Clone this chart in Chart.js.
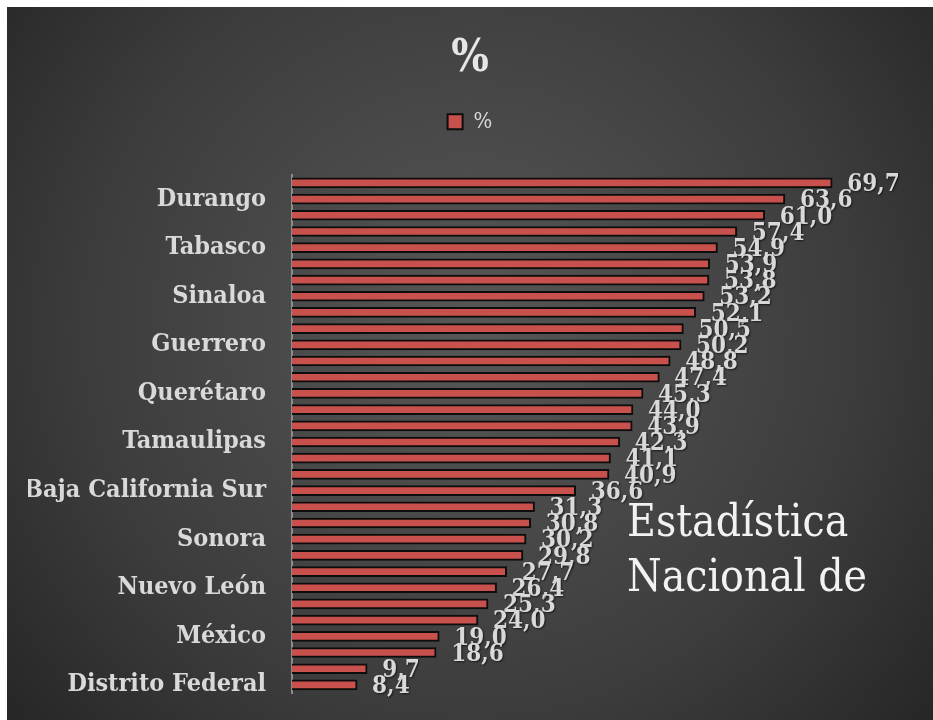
<!DOCTYPE html>
<html>
<head>
<meta charset="utf-8">
<script src="https://cdn.jsdelivr.net/npm/chart.js@4/dist/chart.umd.min.js"></script>
<style>
  html, body { margin: 0; padding: 0; background: #ffffff; }
  #wrap { position: absolute; left: 7px; top: 7px; width: 926px; height: 713px; }
</style>
</head>
<body>
<div id="wrap"><canvas id="chart"></canvas></div>
<script>
// data, top bar first; only every third state name is shown on the picture
const states = [
  '', 'Durango', '', '', 'Tabasco', '', '', 'Sinaloa', '', '', 'Guerrero', '',
  '', 'Querétaro', '', '', 'Tamaulipas', '', '', 'Baja California Sur', '', '',
  'Sonora', '', '', 'Nuevo León', '', '', 'México', '', '', 'Distrito Federal'
];
const percent = [
  69.7, 63.6, 61.0, 57.4, 54.9, 53.9, 53.8, 53.2, 52.1, 50.5, 50.2, 48.8,
  47.4, 45.3, 44.0, 43.9, 42.3, 41.1, 40.9, 36.6, 31.3, 30.8, 30.2, 29.8,
  27.7, 26.4, 25.3, 24.0, 19.0, 18.6, 9.7, 8.4
];
const seriesName = '%';
const watermark = ['Estadística', 'Nacional de'];

const serif = "'DejaVu Serif Condensed', 'DejaVu Serif', serif";
const textGray = '#d9d9d9';

// dark radial background
const background = {
  id: 'background',
  beforeDraw(chart) {
    const { ctx, width, height } = chart;
    const g = ctx.createRadialGradient(width * 0.5, height * 0.45, 0, width * 0.5, height * 0.45, width * 0.7);
    g.addColorStop(0, '#575757');
    g.addColorStop(0.6, '#3c3c3c');
    g.addColorStop(1, '#222222');
    ctx.save();
    ctx.fillStyle = g;
    ctx.fillRect(0, 0, width, height);
    ctx.restore();
  }
};

// extra room under the legend
const legendGap = {
  id: 'legendGap',
  beforeInit(chart) {
    const fit = chart.legend.fit;
    chart.legend.fit = function () {
      fit.call(this);
      this.height += 32;
    };
  }
};

// value labels at the end of each bar
const valueLabels = {
  id: 'valueLabels',
  afterDatasetsDraw(chart) {
    const { ctx } = chart;
    const meta = chart.getDatasetMeta(0);
    ctx.save();
    ctx.font = 'bold 24px ' + serif;
    ctx.fillStyle = textGray;
    ctx.textAlign = 'left';
    ctx.textBaseline = 'middle';
    ctx.shadowColor = 'rgba(0,0,0,0.6)';
    ctx.shadowOffsetX = 1;
    ctx.shadowOffsetY = 1;
    ctx.shadowBlur = 2;
    meta.data.forEach((bar, i) => {
      const txt = percent[i].toFixed(1).replace('.', ',');
      ctx.fillText(txt, bar.x + 15, bar.y + 2);
    });
    ctx.restore();
  }
};

// overlay text from the source slide
const overlayText = {
  id: 'overlayText',
  afterDraw(chart) {
    const { ctx } = chart;
    ctx.save();
    ctx.font = '44px ' + serif;
    ctx.fillStyle = '#f2f2f2';
    ctx.textAlign = 'left';
    ctx.textBaseline = 'alphabetic';
    ctx.fillText(watermark[0], 620, 529);
    ctx.fillText(watermark[1], 620, 584);
    ctx.restore();
  }
};

new Chart(document.getElementById('chart'), {
  type: 'bar',
  data: {
    labels: states,
    datasets: [{
      label: seriesName,
      data: percent,
      backgroundColor: '#c9514d',
      borderColor: '#0d0d0d',
      borderWidth: 2,
      borderSkipped: 'start',
      barThickness: 10
    }]
  },
  options: {
    indexAxis: 'y',
    responsive: true,
    maintainAspectRatio: false,
    animation: false,
    layout: { padding: { left: 21, right: 21, top: 0, bottom: 27 } },
    scales: {
      x: {
        display: false,
        min: 0,
        max: 80
      },
      y: {
        afterFit(scale) {
          scale.width = 264;
          scale.paddingTop = 0;
          scale.paddingBottom = 0;
        },
        grid: { display: false, drawTicks: false },
        border: { display: true, color: '#8c8c8c', width: 2 },
        ticks: {
          autoSkip: false,
          padding: 26,
          color: textGray,
          font: { family: serif, size: 25, weight: 'bold' }
        }
      }
    },
    plugins: {
      title: {
        display: true,
        text: '%',
        color: '#e6e6e6',
        font: { family: serif, size: 44, weight: 'bold' },
        padding: { top: 26, bottom: 17 }
      },
      legend: {
        display: true,
        position: 'top',
        labels: {
          color: textGray,
          boxWidth: 15,
          boxHeight: 15,
          padding: 8,
          font: { family: serif, size: 22 }
        }
      },
      tooltip: { enabled: false }
    }
  },
  plugins: [background, legendGap, valueLabels, overlayText]
});
</script>
</body>
</html>
